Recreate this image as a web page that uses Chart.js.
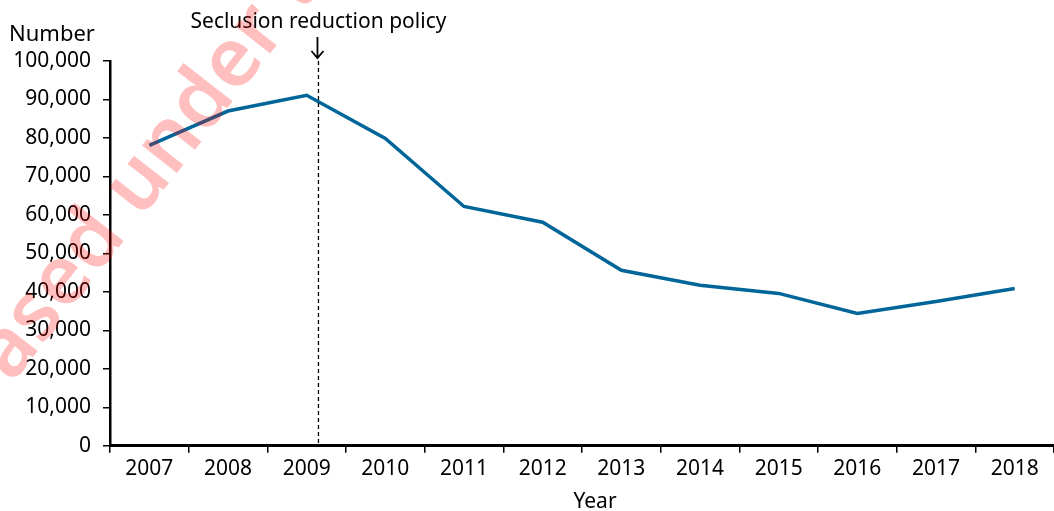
<!DOCTYPE html>
<html>
<head>
<meta charset="utf-8">
<script src="https://cdn.jsdelivr.net/npm/chart.js@4.4.0/dist/chart.umd.min.js"></script>
<style>
    html, body { margin: 0; padding: 0; background: #fff; }
    #wrap { width: 1054px; height: 511px; position: relative; }
</style>
</head>
<body>
<div id="wrap"><canvas id="seclusionChart"></canvas></div>
<script>
const years = ['2007', '2008', '2009', '2010', '2011', '2012', '2013', '2014', '2015', '2016', '2017', '2018'];
const seclusionCounts = [78100, 87000, 91100, 79900, 62200, 58100, 45600, 41700, 39600, 34400, 37500, 40900];
const yTicks = [0, 10000, 20000, 30000, 40000, 50000, 60000, 70000, 80000, 90000, 100000];
const policyYear = '2009';
const policyLabel = 'Seclusion reduction policy';

const FONT = '"Noto Sans", "Open Sans", sans-serif';
const LINE_COLOR = '#006699';

// draws the policy marker, axis captions and the watermark
const overlayPlugin = {
    id: 'overlay',
    afterDraw(chart) {
        const ctx = chart.ctx;
        const x = chart.scales.x;
        const area = chart.chartArea;
        const px = x.getPixelForValue(years.indexOf(policyYear) + 0.15);

        ctx.save();
        // dashed line
        ctx.strokeStyle = '#000';
        ctx.lineWidth = 1.3;
        ctx.setLineDash([4, 3]);
        ctx.beginPath();
        ctx.moveTo(px, area.top);
        ctx.lineTo(px, area.bottom);
        ctx.stroke();

        // arrow
        ctx.setLineDash([]);
        ctx.lineWidth = 1.8;
        ctx.beginPath();
        ctx.moveTo(px - 1, 37);
        ctx.lineTo(px - 1, 58);
        ctx.moveTo(px - 7, 51);
        ctx.lineTo(px - 1, 58);
        ctx.lineTo(px + 5, 51);
        ctx.stroke();

        ctx.fillStyle = '#000';
        ctx.font = '21px ' + FONT;
        ctx.textAlign = 'center';
        ctx.textBaseline = 'middle';
        ctx.fillText(policyLabel, px, 22);

        ctx.font = '22px ' + FONT;
        ctx.textAlign = 'left';
        ctx.fillText('Number', 9, 35);
        ctx.font = '21px ' + FONT;
        ctx.textAlign = 'center';
        ctx.fillText('Year', 595, 502);

        // watermark
        ctx.fillStyle = 'rgba(255, 0, 0, 0.25)';
        ctx.font = '600 82px ' + FONT;
        ctx.textAlign = 'left';
        ctx.textBaseline = 'alphabetic';
        ctx.translate(12, 384);
        ctx.rotate(-52 * Math.PI / 180);
        ctx.fillText('ased under the', 0, 0);
        ctx.restore();
    }
};

new Chart(document.getElementById('seclusionChart'), {
    type: 'line',
    data: {
        labels: years,
        datasets: [{
            label: 'Seclusion events',
            data: seclusionCounts,
            borderColor: LINE_COLOR,
            borderWidth: 3.5,
            pointRadius: 0,
            tension: 0,
            fill: false
        }]
    },
    options: {
        responsive: true,
        maintainAspectRatio: false,
        animation: false,
        layout: {
            padding: { top: 61, left: 10, right: 0, bottom: 25 }
        },
        plugins: {
            legend: { display: false },
            tooltip: { enabled: false }
        },
        scales: {
            x: {
                offset: true,
                grid: {
                    offset: true,
                    drawOnChartArea: false,
                    drawTicks: true,
                    tickLength: 7,
                    color: '#000',
                    lineWidth: 1.5
                },
                border: { display: true, color: '#000', width: 3 },
                ticks: {
                    color: '#000',
                    font: { family: FONT, size: 21 },
                    padding: 4,
                    maxRotation: 0,
                    autoSkip: false
                }
            },
            y: {
                min: 0,
                max: 100000,
                afterBuildTicks(scale) {
                    scale.ticks = yTicks.map(v => ({ value: v }));
                },
                afterFit(scale) {
                    scale.width = 100;
                },
                grid: {
                    drawOnChartArea: false,
                    drawTicks: true,
                    tickLength: 7,
                    color: '#000',
                    lineWidth: 1.5
                },
                border: { display: true, color: '#000', width: 2.5 },
                ticks: {
                    color: '#000',
                    font: { family: FONT, size: 21 },
                    padding: 12,
                    callback: v => v.toLocaleString('en-US')
                }
            }
        }
    },
    plugins: [overlayPlugin]
});
</script>
</body>
</html>
